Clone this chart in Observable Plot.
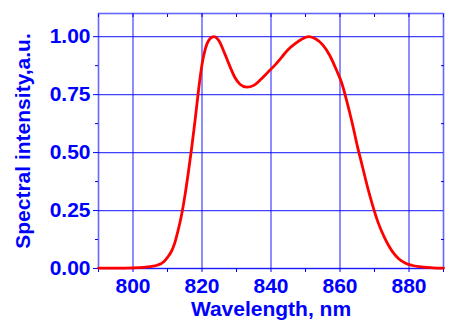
<!DOCTYPE html>
<html>
<head>
<meta charset="utf-8">
<script src="https://cdn.jsdelivr.net/npm/d3@7"></script>
<script src="https://cdn.jsdelivr.net/npm/@observablehq/plot@0.6"></script>
<style>
  html, body { margin: 0; padding: 0; background: #fff; }
</style>
</head>
<body>
<div id="chart"></div>
<script>
const wavelength = [790, 795, 800, 803, 805, 807, 809, 810, 811, 812, 813, 814, 815, 816, 817, 818, 819, 820, 821, 822, 823.4, 825, 826.5, 828, 829.5, 831, 833, 835, 837, 839, 841, 843, 845, 847, 849, 851, 853, 855, 857, 859, 860.5, 862, 863.5, 865, 866.5, 868, 869.5, 871, 873, 875, 877, 879, 881, 884, 887, 890];
const intensity = [0.002, 0.002, 0.003, 0.005, 0.008, 0.014, 0.03, 0.048, 0.07, 0.105, 0.16, 0.225, 0.31, 0.41, 0.52, 0.64, 0.77, 0.88, 0.95, 0.985, 1.00, 0.98, 0.93, 0.875, 0.825, 0.795, 0.782, 0.79, 0.815, 0.845, 0.875, 0.91, 0.945, 0.97, 0.99, 1.00, 0.99, 0.965, 0.92, 0.855, 0.80, 0.72, 0.63, 0.53, 0.44, 0.35, 0.27, 0.20, 0.13, 0.077, 0.042, 0.023, 0.013, 0.006, 0.003, 0.002];

const xMajor = [800, 820, 840, 860, 880];
const xMinor = [790, 800, 810, 820, 830, 840, 850, 860, 870, 880, 890];
const yMajor = [0, 0.25, 0.5, 0.75, 1.0];
const yMinor = [0.125, 0.375, 0.625, 0.875];

const xLabel = "Wavelength, nm";
const yLabel = "Spectral intensity,a.u.";

const data = wavelength.map((w, i) => ({w, v: intensity[i]}));
const blue = "#0000ff";
const noLabel = () => "";

const chart = Plot.plot({
  width: 451,
  height: 322,
  marginLeft: 98,
  marginTop: 13,
  marginRight: 8,
  marginBottom: 54,
  style: {fontFamily: "'Liberation Sans', Arial, sans-serif", fontWeight: "bold", fontSize: "21px", color: blue, background: "#fff"},
  x: {domain: [790, 890]},
  y: {domain: [0, 1.1]},
  marks: [
    Plot.gridX(xMajor, {stroke: blue, strokeOpacity: 0.75, strokeWidth: 1.2}),
    Plot.gridY(yMajor, {stroke: blue, strokeOpacity: 0.75, strokeWidth: 1.2}),
    Plot.axisX(xMinor, {anchor: "bottom", tickSize: 4, tickPadding: 6, stroke: blue,
      tickFormat: d => xMajor.includes(d) ? String(d) : "",
      label: xLabel, labelAnchor: "center", labelArrow: "none", labelOffset: 47}),
    Plot.axisX(xMinor, {anchor: "top", tickSize: -3, tickFormat: noLabel, label: null, stroke: blue}),
    Plot.axisY(yMajor, {anchor: "left", tickSize: 5, tickPadding: 3, stroke: blue, tickFormat: d3.format(".2f"),
      label: yLabel, labelAnchor: "center", labelArrow: "none", labelOffset: 83}),
    Plot.axisY(yMinor, {anchor: "left", tickSize: 3, tickFormat: noLabel, label: null, stroke: blue}),
    Plot.axisY(yMinor, {anchor: "right", tickSize: -3, tickFormat: noLabel, label: null, stroke: blue}),
    Plot.frame({stroke: blue, strokeOpacity: 0.6, strokeWidth: 1.6}),
    Plot.line(data, {x: "w", y: "v", stroke: "#ff0000", strokeWidth: 2.8, curve: "monotone-x"})
  ]
});
document.getElementById("chart").appendChild(chart);
</script>
</body>
</html>
